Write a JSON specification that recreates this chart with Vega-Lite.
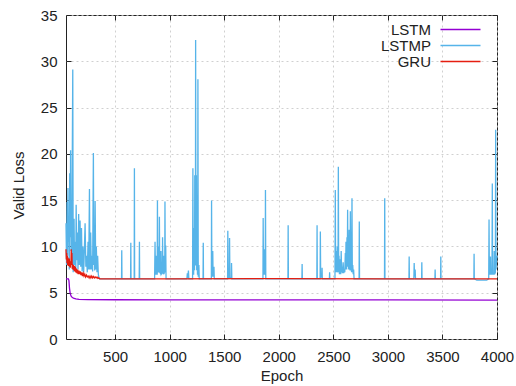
{
  "$schema": "https://vega.github.io/schema/vega-lite/v6.json",
  "autosize": {"type": "none"},
  "width": 431,
  "height": 324,
  "padding": {"left": 66, "top": 15, "right": 19, "bottom": 47},
  "background": "white",
  "config": {
    "font": "Liberation Sans",
    "view": {"stroke": "#222", "strokeWidth": 1},
    "axis": {
      "domain": false,
      "labelFont": "Liberation Sans",
      "labelFontSize": 15,
      "labelColor": "#222",
      "titleFont": "Liberation Sans",
      "titleFontSize": 15,
      "titleFontWeight": "normal",
      "titleColor": "#222",
      "tickColor": "#222",
      "tickSize": -5,
      "gridColor": "#c4c4c4",
      "gridDash": [2, 3],
      "gridWidth": 0.8,
      "labelFlush": false,
      "labelOverlap": false
    }
  },
  "data": {
    "values": [
      {"model": "LSTM", "epoch": 50, "loss": 6.5},
      {"model": "LSTM", "epoch": 60, "loss": 6.5},
      {"model": "LSTM", "epoch": 72, "loss": 6.5},
      {"model": "LSTM", "epoch": 77, "loss": 6.3},
      {"model": "LSTM", "epoch": 82, "loss": 5.5},
      {"model": "LSTM", "epoch": 88, "loss": 4.95},
      {"model": "LSTM", "epoch": 96, "loss": 4.65},
      {"model": "LSTM", "epoch": 106, "loss": 4.5},
      {"model": "LSTM", "epoch": 118, "loss": 4.42},
      {"model": "LSTM", "epoch": 140, "loss": 4.34},
      {"model": "LSTM", "epoch": 170, "loss": 4.29},
      {"model": "LSTM", "epoch": 250, "loss": 4.26},
      {"model": "LSTM", "epoch": 500, "loss": 4.24},
      {"model": "LSTM", "epoch": 1000, "loss": 4.23},
      {"model": "LSTM", "epoch": 2000, "loss": 4.22},
      {"model": "LSTM", "epoch": 3000, "loss": 4.22},
      {"model": "LSTM", "epoch": 4000, "loss": 4.21},

      {"model": "LSTMP", "epoch": 50, "loss": 12.5},
      {"model": "LSTMP", "epoch": 55, "loss": 8.0},
      {"model": "LSTMP", "epoch": 60, "loss": 14.8},
      {"model": "LSTMP", "epoch": 64, "loss": 9.0},
      {"model": "LSTMP", "epoch": 68, "loss": 16.3},
      {"model": "LSTMP", "epoch": 72, "loss": 10.5},
      {"model": "LSTMP", "epoch": 76, "loss": 12.0},
      {"model": "LSTMP", "epoch": 80, "loss": 7.5},
      {"model": "LSTMP", "epoch": 84, "loss": 17.9},
      {"model": "LSTMP", "epoch": 88, "loss": 11.0},
      {"model": "LSTMP", "epoch": 92, "loss": 20.4},
      {"model": "LSTMP", "epoch": 96, "loss": 9.5},
      {"model": "LSTMP", "epoch": 100, "loss": 13.5},
      {"model": "LSTMP", "epoch": 104, "loss": 8.0},
      {"model": "LSTMP", "epoch": 108, "loss": 20.5},
      {"model": "LSTMP", "epoch": 112, "loss": 29.1},
      {"model": "LSTMP", "epoch": 116, "loss": 7.2},
      {"model": "LSTMP", "epoch": 120, "loss": 11.0},
      {"model": "LSTMP", "epoch": 124, "loss": 13.0},
      {"model": "LSTMP", "epoch": 128, "loss": 8.0},
      {"model": "LSTMP", "epoch": 134, "loss": 10.5},
      {"model": "LSTMP", "epoch": 140, "loss": 7.5},
      {"model": "LSTMP", "epoch": 143, "loss": 14.5},
      {"model": "LSTMP", "epoch": 148, "loss": 8.5},
      {"model": "LSTMP", "epoch": 154, "loss": 11.5},
      {"model": "LSTMP", "epoch": 160, "loss": 7.5},
      {"model": "LSTMP", "epoch": 166, "loss": 13.5},
      {"model": "LSTMP", "epoch": 172, "loss": 8.0},
      {"model": "LSTMP", "epoch": 179, "loss": 12.8},
      {"model": "LSTMP", "epoch": 185, "loss": 7.8},
      {"model": "LSTMP", "epoch": 192, "loss": 12.0},
      {"model": "LSTMP", "epoch": 198, "loss": 7.3},
      {"model": "LSTMP", "epoch": 205, "loss": 10.0},
      {"model": "LSTMP", "epoch": 212, "loss": 7.2},
      {"model": "LSTMP", "epoch": 218, "loss": 9.5},
      {"model": "LSTMP", "epoch": 225, "loss": 12.5},
      {"model": "LSTMP", "epoch": 232, "loss": 7.8},
      {"model": "LSTMP", "epoch": 238, "loss": 9.0},
      {"model": "LSTMP", "epoch": 245, "loss": 7.2},
      {"model": "LSTMP", "epoch": 252, "loss": 10.5},
      {"model": "LSTMP", "epoch": 258, "loss": 7.5},
      {"model": "LSTMP", "epoch": 265, "loss": 16.2},
      {"model": "LSTMP", "epoch": 270, "loss": 7.5},
      {"model": "LSTMP", "epoch": 276, "loss": 11.5},
      {"model": "LSTMP", "epoch": 282, "loss": 7.5},
      {"model": "LSTMP", "epoch": 288, "loss": 9.0},
      {"model": "LSTMP", "epoch": 294, "loss": 7.3},
      {"model": "LSTMP", "epoch": 301, "loss": 20.1},
      {"model": "LSTMP", "epoch": 305, "loss": 8.0},
      {"model": "LSTMP", "epoch": 310, "loss": 12.0},
      {"model": "LSTMP", "epoch": 313, "loss": 7.4},
      {"model": "LSTMP", "epoch": 317, "loss": 14.9},
      {"model": "LSTMP", "epoch": 322, "loss": 7.5},
      {"model": "LSTMP", "epoch": 328, "loss": 10.0},
      {"model": "LSTMP", "epoch": 334, "loss": 7.2},
      {"model": "LSTMP", "epoch": 340, "loss": 9.0},
      {"model": "LSTMP", "epoch": 346, "loss": 7.0},
      {"model": "LSTMP", "epoch": 352, "loss": 6.6},
      {"model": "LSTMP", "epoch": 358, "loss": 6.5},
      {"model": "LSTMP", "epoch": 559, "loss": 6.5},
      {"model": "LSTMP", "epoch": 561, "loss": 9.6},
      {"model": "LSTMP", "epoch": 563, "loss": 6.5},
      {"model": "LSTMP", "epoch": 642, "loss": 6.5},
      {"model": "LSTMP", "epoch": 644, "loss": 10.4},
      {"model": "LSTMP", "epoch": 646, "loss": 6.5},
      {"model": "LSTMP", "epoch": 675, "loss": 6.5},
      {"model": "LSTMP", "epoch": 677, "loss": 18.45},
      {"model": "LSTMP", "epoch": 679, "loss": 6.5},
      {"model": "LSTMP", "epoch": 721, "loss": 6.5},
      {"model": "LSTMP", "epoch": 723, "loss": 10.5},
      {"model": "LSTMP", "epoch": 725, "loss": 6.5},
      {"model": "LSTMP", "epoch": 862, "loss": 6.5},
      {"model": "LSTMP", "epoch": 866, "loss": 10.5},
      {"model": "LSTMP", "epoch": 870, "loss": 7.0},
      {"model": "LSTMP", "epoch": 874, "loss": 7.0},
      {"model": "LSTMP", "epoch": 876, "loss": 9.0},
      {"model": "LSTMP", "epoch": 879, "loss": 7.0},
      {"model": "LSTMP", "epoch": 886, "loss": 7.0},
      {"model": "LSTMP", "epoch": 888, "loss": 14.96},
      {"model": "LSTMP", "epoch": 891, "loss": 7.5},
      {"model": "LSTMP", "epoch": 895, "loss": 7.2},
      {"model": "LSTMP", "epoch": 897, "loss": 10.0},
      {"model": "LSTMP", "epoch": 900, "loss": 7.2},
      {"model": "LSTMP", "epoch": 904, "loss": 7.3},
      {"model": "LSTMP", "epoch": 906, "loss": 13.2},
      {"model": "LSTMP", "epoch": 909, "loss": 7.3},
      {"model": "LSTMP", "epoch": 918, "loss": 7.0},
      {"model": "LSTMP", "epoch": 920, "loss": 9.5},
      {"model": "LSTMP", "epoch": 923, "loss": 7.0},
      {"model": "LSTMP", "epoch": 933, "loss": 7.2},
      {"model": "LSTMP", "epoch": 935, "loss": 11.0},
      {"model": "LSTMP", "epoch": 938, "loss": 7.2},
      {"model": "LSTMP", "epoch": 943, "loss": 7.0},
      {"model": "LSTMP", "epoch": 945, "loss": 9.0},
      {"model": "LSTMP", "epoch": 948, "loss": 7.0},
      {"model": "LSTMP", "epoch": 955, "loss": 7.5},
      {"model": "LSTMP", "epoch": 957, "loss": 14.85},
      {"model": "LSTMP", "epoch": 960, "loss": 7.5},
      {"model": "LSTMP", "epoch": 962, "loss": 7.2},
      {"model": "LSTMP", "epoch": 964, "loss": 10.1},
      {"model": "LSTMP", "epoch": 967, "loss": 6.5},
      {"model": "LSTMP", "epoch": 1158, "loss": 6.5},
      {"model": "LSTMP", "epoch": 1162, "loss": 7.1},
      {"model": "LSTMP", "epoch": 1166, "loss": 6.6},
      {"model": "LSTMP", "epoch": 1172, "loss": 7.4},
      {"model": "LSTMP", "epoch": 1176, "loss": 6.5},
      {"model": "LSTMP", "epoch": 1210, "loss": 6.5},
      {"model": "LSTMP", "epoch": 1213, "loss": 18.45},
      {"model": "LSTMP", "epoch": 1216, "loss": 7.0},
      {"model": "LSTMP", "epoch": 1220, "loss": 7.0},
      {"model": "LSTMP", "epoch": 1222, "loss": 12.0},
      {"model": "LSTMP", "epoch": 1225, "loss": 7.5},
      {"model": "LSTMP", "epoch": 1228, "loss": 7.5},
      {"model": "LSTMP", "epoch": 1230, "loss": 17.7},
      {"model": "LSTMP", "epoch": 1233, "loss": 8.0},
      {"model": "LSTMP", "epoch": 1236, "loss": 8.0},
      {"model": "LSTMP", "epoch": 1238, "loss": 32.3},
      {"model": "LSTMP", "epoch": 1241, "loss": 8.5},
      {"model": "LSTMP", "epoch": 1243, "loss": 8.5},
      {"model": "LSTMP", "epoch": 1245, "loss": 17.7},
      {"model": "LSTMP", "epoch": 1248, "loss": 7.5},
      {"model": "LSTMP", "epoch": 1250, "loss": 7.5},
      {"model": "LSTMP", "epoch": 1252, "loss": 9.0},
      {"model": "LSTMP", "epoch": 1255, "loss": 7.0},
      {"model": "LSTMP", "epoch": 1257, "loss": 7.0},
      {"model": "LSTMP", "epoch": 1259, "loss": 28.06},
      {"model": "LSTMP", "epoch": 1262, "loss": 6.8},
      {"model": "LSTMP", "epoch": 1266, "loss": 6.8},
      {"model": "LSTMP", "epoch": 1268, "loss": 8.0},
      {"model": "LSTMP", "epoch": 1271, "loss": 6.5},
      {"model": "LSTMP", "epoch": 1306, "loss": 6.5},
      {"model": "LSTMP", "epoch": 1308, "loss": 10.4},
      {"model": "LSTMP", "epoch": 1310, "loss": 6.5},
      {"model": "LSTMP", "epoch": 1382, "loss": 6.5},
      {"model": "LSTMP", "epoch": 1384, "loss": 14.96},
      {"model": "LSTMP", "epoch": 1387, "loss": 6.8},
      {"model": "LSTMP", "epoch": 1393, "loss": 6.8},
      {"model": "LSTMP", "epoch": 1395, "loss": 9.5},
      {"model": "LSTMP", "epoch": 1398, "loss": 6.8},
      {"model": "LSTMP", "epoch": 1404, "loss": 6.8},
      {"model": "LSTMP", "epoch": 1406, "loss": 7.8},
      {"model": "LSTMP", "epoch": 1409, "loss": 6.5},
      {"model": "LSTMP", "epoch": 1531, "loss": 6.5},
      {"model": "LSTMP", "epoch": 1533, "loss": 11.7},
      {"model": "LSTMP", "epoch": 1536, "loss": 6.6},
      {"model": "LSTMP", "epoch": 1547, "loss": 6.6},
      {"model": "LSTMP", "epoch": 1549, "loss": 10.9},
      {"model": "LSTMP", "epoch": 1552, "loss": 6.6},
      {"model": "LSTMP", "epoch": 1565, "loss": 6.6},
      {"model": "LSTMP", "epoch": 1567, "loss": 8.2},
      {"model": "LSTMP", "epoch": 1570, "loss": 6.5},
      {"model": "LSTMP", "epoch": 1855, "loss": 6.5},
      {"model": "LSTMP", "epoch": 1857, "loss": 13.06},
      {"model": "LSTMP", "epoch": 1860, "loss": 7.0},
      {"model": "LSTMP", "epoch": 1863, "loss": 7.0},
      {"model": "LSTMP", "epoch": 1865, "loss": 9.7},
      {"model": "LSTMP", "epoch": 1868, "loss": 7.0},
      {"model": "LSTMP", "epoch": 1876, "loss": 7.0},
      {"model": "LSTMP", "epoch": 1878, "loss": 16.1},
      {"model": "LSTMP", "epoch": 1881, "loss": 6.5},
      {"model": "LSTMP", "epoch": 2084, "loss": 6.5},
      {"model": "LSTMP", "epoch": 2086, "loss": 12.3},
      {"model": "LSTMP", "epoch": 2088, "loss": 6.5},
      {"model": "LSTMP", "epoch": 2212, "loss": 6.5},
      {"model": "LSTMP", "epoch": 2214, "loss": 8.1},
      {"model": "LSTMP", "epoch": 2216, "loss": 6.5},
      {"model": "LSTMP", "epoch": 2349, "loss": 6.5},
      {"model": "LSTMP", "epoch": 2351, "loss": 12.3},
      {"model": "LSTMP", "epoch": 2353, "loss": 6.5},
      {"model": "LSTMP", "epoch": 2379, "loss": 6.5},
      {"model": "LSTMP", "epoch": 2381, "loss": 11.6},
      {"model": "LSTMP", "epoch": 2384, "loss": 6.7},
      {"model": "LSTMP", "epoch": 2395, "loss": 6.7},
      {"model": "LSTMP", "epoch": 2397, "loss": 7.7},
      {"model": "LSTMP", "epoch": 2399, "loss": 6.5},
      {"model": "LSTMP", "epoch": 2464, "loss": 6.5},
      {"model": "LSTMP", "epoch": 2466, "loss": 7.2},
      {"model": "LSTMP", "epoch": 2468, "loss": 6.5},
      {"model": "LSTMP", "epoch": 2515, "loss": 6.5},
      {"model": "LSTMP", "epoch": 2518, "loss": 16.1},
      {"model": "LSTMP", "epoch": 2521, "loss": 7.2},
      {"model": "LSTMP", "epoch": 2524, "loss": 9.5},
      {"model": "LSTMP", "epoch": 2526, "loss": 7.2},
      {"model": "LSTMP", "epoch": 2528, "loss": 8.8},
      {"model": "LSTMP", "epoch": 2531, "loss": 7.2},
      {"model": "LSTMP", "epoch": 2536, "loss": 10.0},
      {"model": "LSTMP", "epoch": 2539, "loss": 7.2},
      {"model": "LSTMP", "epoch": 2543, "loss": 7.4},
      {"model": "LSTMP", "epoch": 2546, "loss": 18.6},
      {"model": "LSTMP", "epoch": 2549, "loss": 7.2},
      {"model": "LSTMP", "epoch": 2552, "loss": 9.0},
      {"model": "LSTMP", "epoch": 2556, "loss": 7.0},
      {"model": "LSTMP", "epoch": 2564, "loss": 8.6},
      {"model": "LSTMP", "epoch": 2568, "loss": 7.0},
      {"model": "LSTMP", "epoch": 2572, "loss": 9.5},
      {"model": "LSTMP", "epoch": 2576, "loss": 7.2},
      {"model": "LSTMP", "epoch": 2580, "loss": 7.8},
      {"model": "LSTMP", "epoch": 2585, "loss": 7.1},
      {"model": "LSTMP", "epoch": 2590, "loss": 8.3},
      {"model": "LSTMP", "epoch": 2595, "loss": 7.1},
      {"model": "LSTMP", "epoch": 2600, "loss": 7.5},
      {"model": "LSTMP", "epoch": 2605, "loss": 7.2},
      {"model": "LSTMP", "epoch": 2610, "loss": 9.3},
      {"model": "LSTMP", "epoch": 2613, "loss": 7.5},
      {"model": "LSTMP", "epoch": 2616, "loss": 10.5},
      {"model": "LSTMP", "epoch": 2618, "loss": 7.5},
      {"model": "LSTMP", "epoch": 2620, "loss": 8.0},
      {"model": "LSTMP", "epoch": 2622, "loss": 7.5},
      {"model": "LSTMP", "epoch": 2625, "loss": 11.0},
      {"model": "LSTMP", "epoch": 2628, "loss": 7.8},
      {"model": "LSTMP", "epoch": 2631, "loss": 13.95},
      {"model": "LSTMP", "epoch": 2634, "loss": 7.8},
      {"model": "LSTMP", "epoch": 2638, "loss": 9.0},
      {"model": "LSTMP", "epoch": 2641, "loss": 7.5},
      {"model": "LSTMP", "epoch": 2645, "loss": 11.8},
      {"model": "LSTMP", "epoch": 2648, "loss": 7.5},
      {"model": "LSTMP", "epoch": 2650, "loss": 8.5},
      {"model": "LSTMP", "epoch": 2653, "loss": 7.4},
      {"model": "LSTMP", "epoch": 2656, "loss": 13.8},
      {"model": "LSTMP", "epoch": 2659, "loss": 7.4},
      {"model": "LSTMP", "epoch": 2663, "loss": 9.0},
      {"model": "LSTMP", "epoch": 2667, "loss": 7.2},
      {"model": "LSTMP", "epoch": 2671, "loss": 15.2},
      {"model": "LSTMP", "epoch": 2674, "loss": 7.2},
      {"model": "LSTMP", "epoch": 2678, "loss": 8.0},
      {"model": "LSTMP", "epoch": 2682, "loss": 7.0},
      {"model": "LSTMP", "epoch": 2686, "loss": 7.5},
      {"model": "LSTMP", "epoch": 2690, "loss": 6.5},
      {"model": "LSTMP", "epoch": 2736, "loss": 6.5},
      {"model": "LSTMP", "epoch": 2738, "loss": 12.7},
      {"model": "LSTMP", "epoch": 2740, "loss": 6.5},
      {"model": "LSTMP", "epoch": 2969, "loss": 6.5},
      {"model": "LSTMP", "epoch": 2971, "loss": 15.2},
      {"model": "LSTMP", "epoch": 2973, "loss": 6.5},
      {"model": "LSTMP", "epoch": 3193, "loss": 6.5},
      {"model": "LSTMP", "epoch": 3195, "loss": 8.9},
      {"model": "LSTMP", "epoch": 3197, "loss": 6.5},
      {"model": "LSTMP", "epoch": 3238, "loss": 6.5},
      {"model": "LSTMP", "epoch": 3241, "loss": 8.2},
      {"model": "LSTMP", "epoch": 3244, "loss": 6.8},
      {"model": "LSTMP", "epoch": 3248, "loss": 6.8},
      {"model": "LSTMP", "epoch": 3250, "loss": 7.5},
      {"model": "LSTMP", "epoch": 3253, "loss": 6.5},
      {"model": "LSTMP", "epoch": 3309, "loss": 6.5},
      {"model": "LSTMP", "epoch": 3311, "loss": 8.3},
      {"model": "LSTMP", "epoch": 3313, "loss": 6.5},
      {"model": "LSTMP", "epoch": 3431, "loss": 6.5},
      {"model": "LSTMP", "epoch": 3433, "loss": 7.5},
      {"model": "LSTMP", "epoch": 3435, "loss": 6.5},
      {"model": "LSTMP", "epoch": 3483, "loss": 6.5},
      {"model": "LSTMP", "epoch": 3485, "loss": 8.9},
      {"model": "LSTMP", "epoch": 3487, "loss": 6.5},
      {"model": "LSTMP", "epoch": 3788, "loss": 6.5},
      {"model": "LSTMP", "epoch": 3790, "loss": 9.2},
      {"model": "LSTMP", "epoch": 3792, "loss": 6.5},
      {"model": "LSTMP", "epoch": 3815, "loss": 6.35},
      {"model": "LSTMP", "epoch": 3905, "loss": 6.35},
      {"model": "LSTMP", "epoch": 3924, "loss": 6.5},
      {"model": "LSTMP", "epoch": 3927, "loss": 12.9},
      {"model": "LSTMP", "epoch": 3930, "loss": 7.0},
      {"model": "LSTMP", "epoch": 3937, "loss": 7.0},
      {"model": "LSTMP", "epoch": 3940, "loss": 8.9},
      {"model": "LSTMP", "epoch": 3943, "loss": 7.0},
      {"model": "LSTMP", "epoch": 3954, "loss": 7.0},
      {"model": "LSTMP", "epoch": 3957, "loss": 16.8},
      {"model": "LSTMP", "epoch": 3960, "loss": 7.0},
      {"model": "LSTMP", "epoch": 3972, "loss": 7.0},
      {"model": "LSTMP", "epoch": 3975, "loss": 9.5},
      {"model": "LSTMP", "epoch": 3978, "loss": 7.0},
      {"model": "LSTMP", "epoch": 3985, "loss": 7.2},
      {"model": "LSTMP", "epoch": 3988, "loss": 22.6},
      {"model": "LSTMP", "epoch": 3991, "loss": 7.5},
      {"model": "LSTMP", "epoch": 3995, "loss": 8.5},
      {"model": "LSTMP", "epoch": 4000, "loss": 9.0},

      {"model": "GRU", "epoch": 50, "loss": 9.7},
      {"model": "GRU", "epoch": 53, "loss": 8.6},
      {"model": "GRU", "epoch": 56, "loss": 9.3},
      {"model": "GRU", "epoch": 59, "loss": 8.2},
      {"model": "GRU", "epoch": 62, "loss": 9.0},
      {"model": "GRU", "epoch": 65, "loss": 8.0},
      {"model": "GRU", "epoch": 68, "loss": 8.8},
      {"model": "GRU", "epoch": 71, "loss": 7.9},
      {"model": "GRU", "epoch": 74, "loss": 8.5},
      {"model": "GRU", "epoch": 77, "loss": 8.0},
      {"model": "GRU", "epoch": 80, "loss": 8.7},
      {"model": "GRU", "epoch": 83, "loss": 7.8},
      {"model": "GRU", "epoch": 86, "loss": 8.4},
      {"model": "GRU", "epoch": 89, "loss": 7.7},
      {"model": "GRU", "epoch": 92, "loss": 8.3},
      {"model": "GRU", "epoch": 95, "loss": 8.0},
      {"model": "GRU", "epoch": 98, "loss": 9.7},
      {"model": "GRU", "epoch": 101, "loss": 8.0},
      {"model": "GRU", "epoch": 104, "loss": 9.3},
      {"model": "GRU", "epoch": 107, "loss": 7.6},
      {"model": "GRU", "epoch": 110, "loss": 8.1},
      {"model": "GRU", "epoch": 114, "loss": 7.5},
      {"model": "GRU", "epoch": 118, "loss": 8.0},
      {"model": "GRU", "epoch": 122, "loss": 7.4},
      {"model": "GRU", "epoch": 126, "loss": 7.9},
      {"model": "GRU", "epoch": 130, "loss": 7.3},
      {"model": "GRU", "epoch": 135, "loss": 7.8},
      {"model": "GRU", "epoch": 140, "loss": 7.2},
      {"model": "GRU", "epoch": 145, "loss": 7.6},
      {"model": "GRU", "epoch": 150, "loss": 7.1},
      {"model": "GRU", "epoch": 156, "loss": 7.5},
      {"model": "GRU", "epoch": 162, "loss": 7.0},
      {"model": "GRU", "epoch": 168, "loss": 7.4},
      {"model": "GRU", "epoch": 174, "loss": 7.0},
      {"model": "GRU", "epoch": 180, "loss": 7.3},
      {"model": "GRU", "epoch": 187, "loss": 6.9},
      {"model": "GRU", "epoch": 194, "loss": 7.2},
      {"model": "GRU", "epoch": 201, "loss": 6.8},
      {"model": "GRU", "epoch": 208, "loss": 7.1},
      {"model": "GRU", "epoch": 215, "loss": 6.8},
      {"model": "GRU", "epoch": 222, "loss": 7.0},
      {"model": "GRU", "epoch": 230, "loss": 6.7},
      {"model": "GRU", "epoch": 238, "loss": 6.9},
      {"model": "GRU", "epoch": 246, "loss": 6.7},
      {"model": "GRU", "epoch": 254, "loss": 6.8},
      {"model": "GRU", "epoch": 262, "loss": 6.6},
      {"model": "GRU", "epoch": 270, "loss": 6.8},
      {"model": "GRU", "epoch": 278, "loss": 6.6},
      {"model": "GRU", "epoch": 286, "loss": 6.8},
      {"model": "GRU", "epoch": 294, "loss": 6.6},
      {"model": "GRU", "epoch": 302, "loss": 6.75},
      {"model": "GRU", "epoch": 310, "loss": 6.6},
      {"model": "GRU", "epoch": 318, "loss": 6.7},
      {"model": "GRU", "epoch": 326, "loss": 6.6},
      {"model": "GRU", "epoch": 334, "loss": 6.7},
      {"model": "GRU", "epoch": 342, "loss": 6.55},
      {"model": "GRU", "epoch": 350, "loss": 6.6},
      {"model": "GRU", "epoch": 360, "loss": 6.5},
      {"model": "GRU", "epoch": 1000, "loss": 6.5},
      {"model": "GRU", "epoch": 2000, "loss": 6.52},
      {"model": "GRU", "epoch": 3000, "loss": 6.5},
      {"model": "GRU", "epoch": 4000, "loss": 6.5}
    ]
  },
  "layer": [
    {
      "mark": {"type": "line", "strokeJoin": "miter", "strokeWidth": 1.3},
      "encoding": {
        "x": {
          "field": "epoch",
          "type": "quantitative",
          "scale": {"domain": [50, 4000], "nice": false, "zero": false},
          "axis": {
            "orient": "bottom",
            "title": "Epoch",
            "values": [500, 1000, 1500, 2000, 2500, 3000, 3500, 4000],
            "format": "d",
            "grid": true,
            "labelPadding": 15,
            "titlePadding": 4
          }
        },
        "y": {
          "field": "loss",
          "type": "quantitative",
          "scale": {"domain": [0, 35], "nice": false},
          "axis": {
            "orient": "left",
            "title": "Valid Loss",
            "titleY": 170,
            "values": [0, 5, 10, 15, 20, 25, 30, 35],
            "grid": true,
            "labelPadding": 14,
            "titlePadding": 14
          }
        },
        "color": {
          "field": "model",
          "type": "nominal",
          "scale": {"domain": ["LSTM", "LSTMP", "GRU"], "range": ["#9400d3", "#56b4e9", "#e51e10"]},
          "legend": {
            "orient": "none",
            "legendX": 387,
            "legendY": 7,
            "title": null,
            "symbolType": "M-4,0H4",
            "symbolSize": 100,
            "symbolStrokeWidth": 1.4,
            "symbolOpacity": 1,
            "labelAlign": "right",
            "labelOffset": -37,
            "labelFont": "Liberation Sans",
            "labelFontSize": 15,
            "labelColor": "#222",
            "rowPadding": 0
          }
        }
      }
    },
    {
      "mark": {"type": "line", "opacity": 0},
      "encoding": {
        "x": {
          "field": "epoch",
          "type": "quantitative",
          "axis": {
            "orient": "top",
            "title": null,
            "labels": false,
            "grid": false,
            "values": [500, 1000, 1500, 2000, 2500, 3000, 3500, 4000]
          }
        },
        "y": {
          "field": "loss",
          "type": "quantitative",
          "axis": {
            "orient": "right",
            "title": null,
            "labels": false,
            "grid": false,
            "values": [0, 5, 10, 15, 20, 25, 30, 35]
          }
        },
        "detail": {"field": "model", "type": "nominal"}
      }
    }
  ],
  "resolve": {"axis": {"x": "independent", "y": "independent"}}
}
